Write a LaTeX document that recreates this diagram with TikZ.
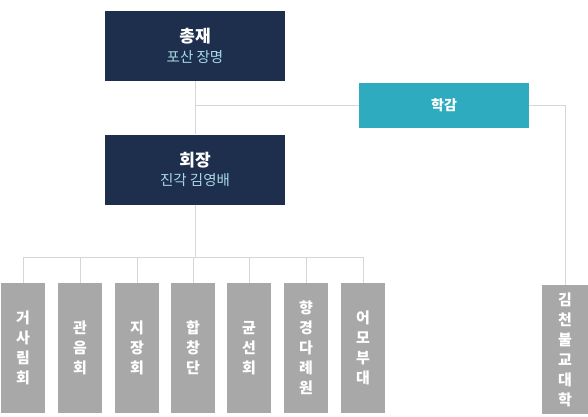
\documentclass[tikz,border=0pt]{standalone}
\usepackage{fontspec}
\setmainfont{Noto Sans CJK KR}
\usepackage{xcolor}
\definecolor{navy}{HTML}{1E2F4D}
\definecolor{tealbox}{HTML}{2EABBF}
\definecolor{greybox}{HTML}{A8A8A8}
\definecolor{linegrey}{HTML}{D6D6D6}
\definecolor{subblue}{HTML}{A9D9E6}
\tikzset{
    head/.style={fill=navy, text=white, minimum width=180pt, minimum height=70pt, inner sep=0pt, align=center},
    adviser/.style={fill=tealbox, text=white, minimum width=170pt, minimum height=45pt, inner sep=0pt, font=\fontsize{14pt}{16pt}\selectfont\bfseries},
    branch/.style={fill=greybox, text=white, minimum width=44pt, minimum height=130pt, inner sep=0pt, align=center, font=\fontsize{15pt}{20pt}\selectfont\bfseries},
    link/.style={draw=linegrey, line width=1pt}}
\newcommand{\headname}[2]{{\fontsize{17pt}{19pt}\selectfont\bfseries #1}\\[5pt]{\fontsize{14.5pt}{16pt}\selectfont\color{subblue}#2}}
\begin{document}
\begin{tikzpicture}[x=1pt, y=-1pt]
    \useasboundingbox[fill=white] (0,0) rectangle (588,416);
    \node[head] (chief) at (195,46) {\headname{총재}{포산 장명}};
    \node[head] (pres) at (195,169.5) {\headname{회장}{진각 김영배}};
    \node[adviser] (dean) at (444,105) {학감};
    \node[branch, minimum width=46pt, minimum height=129pt] (univ) at (565,349.5) {김\\천\\불\\교\\대\\학};
    \node[branch] (b1) at (23,348) {거\\사\\림\\회};
    \node[branch] (b2) at (80,348) {관\\음\\회};
    \node[branch] (b3) at (137,348) {지\\장\\회};
    \node[branch] (b4) at (193,348) {합\\창\\단};
    \node[branch] (b5) at (249,348) {균\\선\\회};
    \node[branch] (b6) at (306,348) {향\\경\\다\\례\\원};
    \node[branch] (b7) at (363,348) {어\\모\\부\\대};
    \coordinate (split) at (195,105);
    \coordinate (bus) at (195,257);
    \draw[link] (chief.south) -- (pres.north);
    \draw[link] (split) -- (dean.west);
    \draw[link] (dean.east) -| (univ.north);
    \draw[link] (pres.south) -- (bus);
    \foreach \b in {b1,b2,b3,b4,b5,b6,b7}
        \draw[link] (bus) -| (\b.north);
\end{tikzpicture}
\end{document}
